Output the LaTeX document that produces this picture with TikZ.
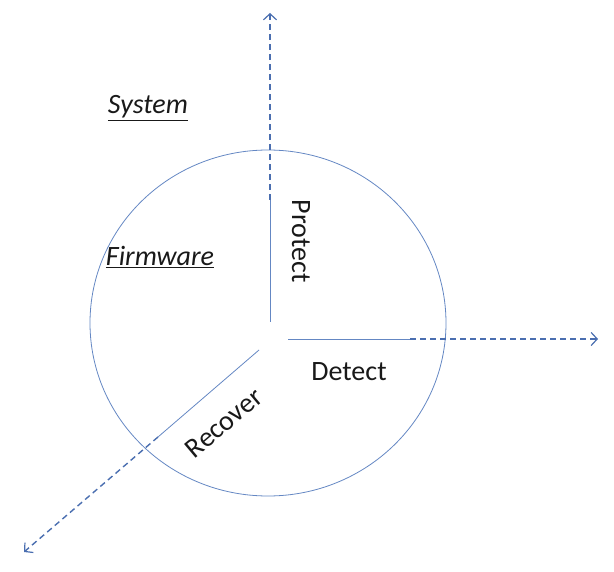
\documentclass[tikz,border=0pt]{standalone}
\usepackage{fontspec}
\setmainfont{Carlito}
\usetikzlibrary{arrows.meta}
\definecolor{axisblue}{RGB}{74,110,176}
\definecolor{ringblue}{RGB}{100,135,195}
\definecolor{txt}{RGB}{25,25,25}
\tikzset{
  solidax/.style={draw=ringblue, line width=0.8pt},
  dashax/.style={draw=axisblue, line width=1.4pt, dash pattern=on 6pt off 4pt, -{Straight Barb[length=6pt,width=13pt,line width=1.2pt]}},
  lbl/.style={font=\fontsize{28}{32}\selectfont, text=txt, inner sep=0pt},
  ttl/.style={font=\fontsize{28}{32}\selectfont\itshape, text=txt, inner sep=0pt}
}
\begin{document}
\begin{tikzpicture}[x=1pt,y=-1pt]
\useasboundingbox (0,0) rectangle (614,572);
% ring
\draw[ringblue, line width=0.8pt] (268,323) ellipse [x radius=178, y radius=173];
% protect axis
\coordinate (p0) at (270,322);
\coordinate (p1) at (270,200);
\coordinate (pt) at (270,13);
\draw[solidax] (p0) -- (p1);
\draw[dashax] (p1) -- (pt);
% detect axis
\coordinate (d0) at (288,339);
\coordinate (d1) at (410,339);
\coordinate (dt) at (598,339);
\draw[solidax] (d0) -- (d1);
\draw[dashax] (d1) -- (dt);
% recover axis
\coordinate (r0) at (259,350);
\coordinate (r1) at (158,437);
\coordinate (rt) at (24,552);
\draw[solidax] (r0) -- (r1);
\draw[dashax] (r1) -- (rt);
% labels
\node[ttl] (sys) at (148,108) {\underline{System}};
\node[ttl] (fw) at (160,257) {\underline{Firmware}};
\node[lbl, rotate=-90] (prot) at (301,241) {Protect};
\node[lbl] (det) at (349,372) {Detect};
\node[lbl, rotate=40] (rec) at (224,423) {Recover};
\end{tikzpicture}
\end{document}
